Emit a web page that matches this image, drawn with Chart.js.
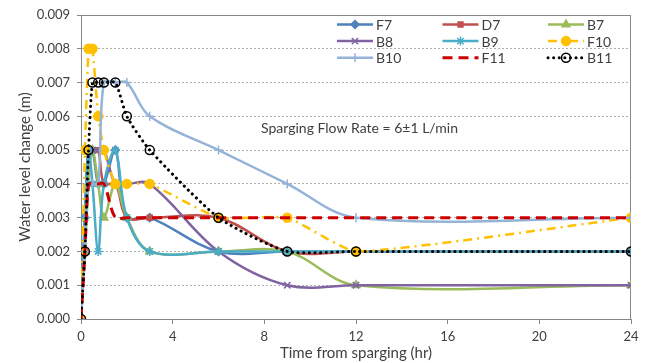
<!DOCTYPE html>
<html lang="en">
<head>
  <meta charset="UTF-8">
  <title>Water level change</title>
  <script src="https://cdn.jsdelivr.net/npm/chart.js@4"></script>
  <style>
    html, body {
      margin: 0;
      padding: 0;
      background: #fff;
    }
    #wrap {
      width: 645px;
      height: 363px;
    }
  </style>
</head>
<body>
<div id="wrap">
  <canvas id="levelChart" width="645" height="363"></canvas>
</div>

<script>
  // sampling times (hr)
  const times = [0, 0.17, 0.33, 0.5, 0.75, 1, 1.5, 2, 3, 6, 9, 12, 24];

  // water level change (m) per well
  const F7  = [0, 0.003, 0.005, 0.005, 0.004, 0.004, 0.005, 0.003, 0.003, 0.002, 0.002, 0.002, 0.002];
  const D7  = [0, 0.002, 0.005, 0.005, 0.005, 0.004, 0.004, 0.003, 0.003, 0.003, 0.002, 0.002, 0.002];
  const B7  = [0, 0.002, 0.004, 0.005, 0.004, 0.003, 0.004, 0.003, 0.002, 0.002, 0.002, 0.001, 0.001];
  const B8  = [0, 0.003, 0.005, 0.005, 0.005, 0.005, 0.004, 0.004, 0.004, 0.002, 0.001, 0.001, 0.001];
  const B9  = [0, 0.003, 0.005, 0.004, 0.002, 0.004, 0.005, 0.003, 0.002, 0.002, 0.002, 0.002, 0.002];
  const F10 = [0, 0.005, 0.008, 0.008, 0.006, 0.005, 0.004, 0.004, 0.004, 0.003, 0.003, 0.002, 0.003];
  const B10 = [0, 0.002, 0.004, 0.004, 0.004, 0.007, 0.007, 0.007, 0.006, 0.005, 0.004, 0.003, 0.003];
  const F11 = [0, 0.002, 0.004, 0.004, 0.004, 0.004, 0.003, 0.003, 0.003, 0.003, 0.003, 0.003, 0.003];
  const B11 = [0, 0.002, 0.005, 0.007, 0.007, 0.007, 0.007, 0.006, 0.005, 0.003, 0.002, 0.002, 0.002];

  const xTicks = [0, 4, 8, 12, 16, 20, 24];
  const yMax = 0.009;

  const FONT = 'Lato, "Open Sans", sans-serif';
  const TEXT = '#404040';

  const pts = vals => vals.map((v, i) => ({ x: times[i], y: v }));

  const series = [
    { label: 'F7',  data: F7,  color: '#4F81BD', style: 'rectRot',  radius: 4 },
    { label: 'D7',  data: D7,  color: '#C0504D', style: 'rect',     radius: 3.5 },
    { label: 'B7',  data: B7,  color: '#9BBB59', style: 'triangle', radius: 4.5 },
    { label: 'B8',  data: B8,  color: '#8064A2', style: 'crossRot', radius: 4.5 },
    { label: 'B9',  data: B9,  color: '#4BACC6', style: 'star',     radius: 4.5 },
    { label: 'F10', data: F10, color: '#FFC000', style: 'circle',   radius: 4.5, dash: [9, 5, 2, 5], tension: 0.15 },
    { label: 'B10', data: B10, color: '#95B3D7', style: 'cross',    radius: 4.5 },
    { label: 'F11', data: F11, color: '#CC0000', style: false,      radius: 0, dash: [10, 6], width: 3 },
    { label: 'B11', data: B11, color: '#000000', style: 'circle',   radius: 4.5, dash: [0.1, 5.5], cap: 'round', width: 3, hollow: true, tension: 0.2 }
  ];

  const datasets = series.map((s, i) => ({
    label: s.label,
    data: pts(s.data),
    borderColor: s.color,
    backgroundColor: s.hollow ? 'rgba(0,0,0,0)' : s.color,
    borderWidth: s.width || 2.5,
    borderDash: s.dash || [],
    borderCapStyle: s.cap || 'butt',
    tension: s.tension !== undefined ? s.tension : 0.35,
    pointStyle: s.style,
    pointRadius: s.radius,
    pointBorderColor: s.color,
    pointBackgroundColor: s.hollow ? 'rgba(0,0,0,0)' : s.color,
    pointBorderWidth: s.hollow ? 1.5 : 1.5,
    order: series.length - i,
    fill: false
  }));

  // marker drawing for the legend
  function marker(ctx, ds, x, y) {
    if (!ds.pointStyle) return;
    ctx.save();
    ctx.strokeStyle = ds.pointBorderColor;
    ctx.fillStyle = ds.pointBackgroundColor;
    ctx.lineWidth = ds.pointBorderWidth;
    ctx.setLineDash([]);
    if (Chart.helpers && Chart.helpers.drawPoint) {
      Chart.helpers.drawPoint(ctx, {
        pointStyle: ds.pointStyle,
        radius: ds.pointRadius,
        borderWidth: ds.pointBorderWidth,
        rotation: 0
      }, x, y);
    } else {
      ctx.beginPath();
      ctx.arc(x, y, ds.pointRadius, 0, Math.PI * 2);
      ctx.fill();
      ctx.stroke();
    }
    ctx.restore();
  }

  const extras = {
    id: 'extras',
    beforeDatasetsDraw(chart) {
      const { ctx, chartArea: a } = chart;
      ctx.save();
      ctx.strokeStyle = '#868686';
      ctx.lineWidth = 1;
      ctx.strokeRect(a.left + 0.5, a.top + 0.5, a.right - a.left - 1, a.bottom - a.top);
      ctx.fillStyle = TEXT;
      ctx.font = '14px ' + FONT;
      ctx.textAlign = 'left';
      ctx.textBaseline = 'middle';
      ctx.fillText('Sparging Flow Rate = 6\u00B11 L/min', 261, 128);
      ctx.restore();
    },
    afterDraw(chart) {
      const { ctx } = chart;
      const sets = chart.data.datasets;
      ctx.save();
      ctx.font = '14px ' + FONT;
      ctx.textAlign = 'left';
      ctx.textBaseline = 'middle';
      sets.forEach((ds, i) => {
        const col = i % 3, row = Math.floor(i / 3);
        const x0 = 337 + col * 105.5;
        const y = 24.5 + row * 16.6;
        ctx.save();
        ctx.strokeStyle = ds.borderColor;
        ctx.lineWidth = ds.borderWidth;
        ctx.setLineDash(ds.borderDash);
        ctx.lineCap = ds.borderCapStyle;
        ctx.beginPath();
        ctx.moveTo(x0, y);
        ctx.lineTo(x0 + 36, y);
        ctx.stroke();
        ctx.restore();
        marker(ctx, ds, x0 + 18, y);
        ctx.fillStyle = TEXT;
        ctx.fillText(ds.label, x0 + 39, y + 1);
      });
      ctx.restore();
    }
  };

  new Chart(document.getElementById('levelChart'), {
    type: 'line',
    data: { datasets },
    options: {
      responsive: false,
      animation: false,
      layout: { padding: { top: 15, right: 14, left: 0, bottom: 0 } },
      plugins: {
        legend: { display: false },
        tooltip: { enabled: false }
      },
      scales: {
        x: {
          type: 'linear',
          min: 0,
          max: 24,
          afterBuildTicks: scale => { scale.ticks = xTicks.map(v => ({ value: v })); },
          afterFit: scale => { scale.height = 44; },
          grid: { drawOnChartArea: false, tickLength: 5, color: '#868686' },
          border: { color: '#868686' },
          ticks: { color: TEXT, font: { family: FONT, size: 13 }, padding: 5, maxRotation: 0 },
          title: {
            display: true,
            text: 'Time from sparging (hr)',
            color: TEXT,
            font: { family: FONT, size: 15 },
            padding: { top: 0, bottom: 1 }
          }
        },
        y: {
          min: 0,
          max: yMax,
          ticks: {
            stepSize: 0.001,
            color: TEXT,
            font: { family: FONT, size: 13 },
            padding: 7,
            callback: v => Number(v).toFixed(3)
          },
          afterFit: scale => { scale.width = 81; },
          grid: { color: '#b0b0b0', tickLength: 4, tickColor: '#868686' },
          border: { color: '#868686', dash: [2, 2] },
          title: {
            display: true,
            text: 'Water level change (m)',
            color: TEXT,
            font: { family: FONT, size: 15 },
            padding: { top: 16, bottom: 0 }
          }
        }
      }
    },
    plugins: [extras]
  });
</script>
</body>
</html>
